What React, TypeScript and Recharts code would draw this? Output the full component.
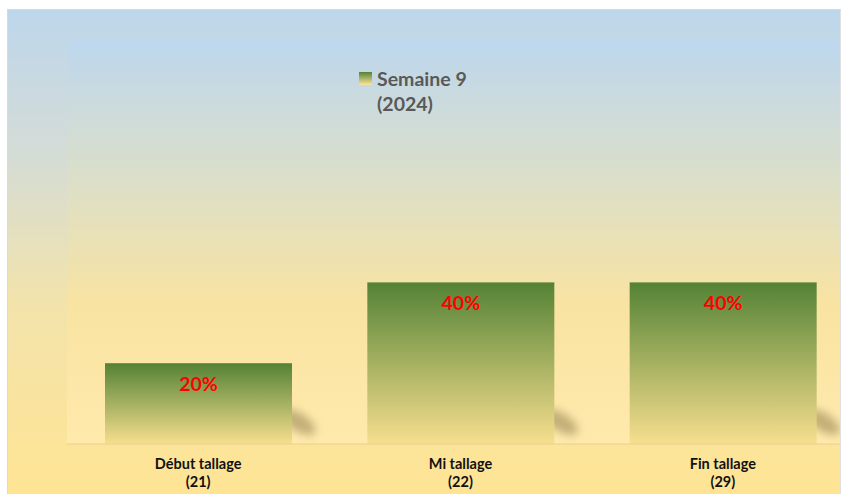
import { Bar, BarChart, CartesianGrid, LabelList, Legend, XAxis, YAxis } from "recharts";

const categories = ["Début tallage\n(21)", "Mi tallage\n(22)", "Fin tallage\n(29)"];
const semaine9 = [0.2, 0.4, 0.4];
const seriesName = "Semaine 9";
const seriesYear = "(2024)";

const data = categories.map((stage, i) => ({ stage, value: semaine9[i] }));

const FONT = "Lato, 'Open Sans', sans-serif";

function StageTick({ x, y, payload }: any) {
  const lines = String(payload.value).split("\n");
  return (
    <text x={x} y={y} textAnchor="middle" fontFamily={FONT} fontWeight={700} fontSize={14.5} fill="#111">
      {lines.map((l, i) => (
        <tspan key={i} x={x} dy={i === 0 ? 17 : 18}>
          {l}
        </tspan>
      ))}
    </text>
  );
}

function ShadowBar({ x, y, width, height }: any) {
  const r = x + width;
  const b = y + height;
  return (
    <g>
      {/* soft diagonal drop shadow behind the bar's lower right corner */}
      <ellipse
        cx={r + 6}
        cy={b - 22}
        rx={20}
        ry={9}
        transform={`rotate(32 ${r + 6} ${b - 22})`}
        fill="#8a7646"
        opacity={0.5}
        filter="url(#shadowBlur)"
      />
      <rect x={x} y={y} width={width} height={height} fill="url(#barFill)" />
    </g>
  );
}

function SeriesLegend() {
  return (
    <div style={{ display: "flex", alignItems: "flex-start", fontFamily: FONT, fontWeight: 700, fontSize: 19.5, color: "#595959", lineHeight: "25px" }}>
      <div
        style={{
          width: 13,
          height: 13,
          marginTop: 6,
          marginRight: 5,
          background: "linear-gradient(#548235, #ffe699)",
        }}
      />
      <div>
        <div>{seriesName}</div>
        <div>{seriesYear}</div>
      </div>
    </div>
  );
}

export default function App() {
  return (
    <div
      style={{
        width: 834,
        height: 485,
        left: 7,
        top: 9,
        overflow: "hidden",
        position: "fixed",
        borderTop: "1px solid #d9d9d9",
        borderLeft: "1px solid #d9d9d9",
        borderRight: "1px solid #e0e0e0",
        boxSizing: "border-box",
        background: "linear-gradient(#bdd6eb 0%, #d4dcd6 30%, #f2e3ab 60%, #ffe494 100%)",
      }}
    >
      <BarChart width={846} height={485} data={data} margin={{ top: 30, right: 0, bottom: 0, left: 59 }}>
        <defs>
          <linearGradient id="barFill" x1="0" y1="0" x2="0" y2="1">
            <stop offset="0%" stopColor="#548235" />
            <stop offset="100%" stopColor="#f7df8e" />
          </linearGradient>
          <linearGradient id="plotFill" x1="0" y1="0" x2="0" y2="1">
            <stop offset="0%" stopColor="#bdd7ee" />
            <stop offset="35%" stopColor="#dcdfc8" />
            <stop offset="65%" stopColor="#f8e3a2" />
            <stop offset="100%" stopColor="#ffeaac" />
          </linearGradient>
          <filter id="shadowBlur" x="-50%" y="-50%" width="200%" height="200%">
            <feGaussianBlur stdDeviation="4" />
          </filter>
        </defs>
        <CartesianGrid horizontal={false} vertical={false} fill="url(#plotFill)" />
        <XAxis
          dataKey="stage"
          interval={0}
          height={51}
          tickLine={false}
          axisLine={{ stroke: "#e6d08e" }}
          tick={<StageTick />}
        />
        <YAxis hide domain={[0, 1]} />
        <Legend
          layout="horizontal"
          verticalAlign="middle"
          align="center"
          wrapperStyle={{ left: 351, top: 56, width: "auto" }}
          content={<SeriesLegend />}
        />
        <Bar dataKey="value" name={seriesName} barSize={187} shape={<ShadowBar />} isAnimationActive={false}>
          <LabelList
            dataKey="value"
            position="insideTop"
            offset={14}
            formatter={(v: any) => `${Math.round(Number(v) * 100)}%`}
            fill="#ff0000"
            fontFamily={FONT}
            fontWeight={700}
            fontSize={19.5}
          />
        </Bar>
      </BarChart>
    </div>
  );
}
